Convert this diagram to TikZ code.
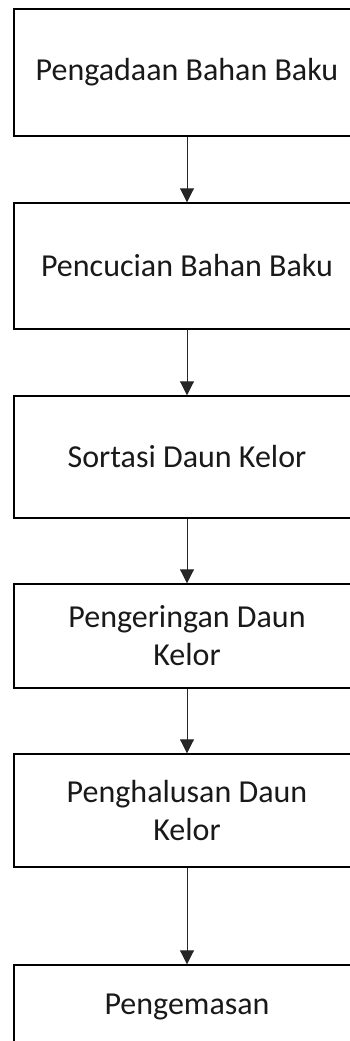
\documentclass[tikz,border=0pt]{standalone}
\usepackage{fontspec}
\setmainfont{Carlito}
\usetikzlibrary{arrows.meta}
\begin{document}
\begin{tikzpicture}[x=1pt,y=-1pt,
  stepbox/.style={draw=black, line width=1.4pt, minimum width=346pt, inner sep=0pt,
    align=center, text=black!90, font=\fontsize{32}{38}\selectfont},
  flow/.style={draw=black!85, line width=0.9pt, -{Triangle[width=14pt,length=14pt]}}]
\useasboundingbox (0,0) rectangle (350,1041);
\node[stepbox, minimum height=127pt] (b1) at (187,72.5) {Pengadaan Bahan Baku};
\node[stepbox, minimum height=126pt] (b2) at (187,266) {Pencucian Bahan Baku};
\node[stepbox, minimum height=122pt] (b3) at (187,457) {Sortasi Daun Kelor};
\node[stepbox, minimum height=104pt] (b4) at (187,636) {Pengeringan Daun\\Kelor};
\node[stepbox, minimum height=113pt] (b5) at (187,810.5) {Penghalusan Daun\\Kelor};
\node[stepbox, minimum height=84pt] (b6) at (187,1007) {Pengemasan};
\draw[flow] (b1) -- (b2);
\draw[flow] (b2) -- (b3);
\draw[flow] (b3) -- (b4);
\draw[flow] (b4) -- (b5);
\draw[flow] (b5) -- (b6);
\end{tikzpicture}
\end{document}
